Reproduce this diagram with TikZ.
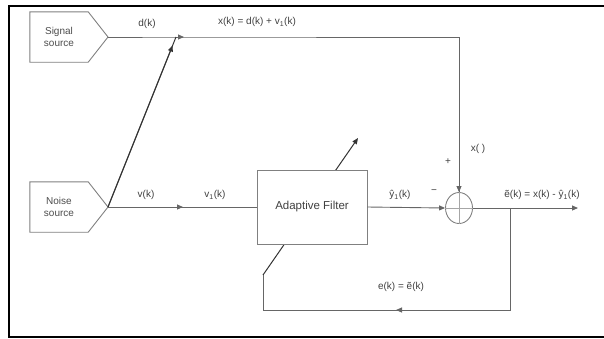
\documentclass[tikz,border=0pt]{standalone}
\usepackage{fontspec}
\setmainfont{Liberation Sans}
\usetikzlibrary{arrows.meta,calc,shapes.geometric}
\begin{document}
\begin{tikzpicture}[x=1pt,y=-1pt,
  wire/.style={draw=black!60, line width=0.9pt},
  dark/.style={draw=black!80, line width=1pt},
  tip/.style={-{Triangle[length=6pt,width=5pt]}},
  srcbody/.style={minimum width=58pt, minimum height=50pt, inner sep=0pt,
    font=\fontsize{10}{11.5}\selectfont, text=black!70, align=center},
  pent/.style={draw=black!50, line width=0.9pt},
  blk/.style={draw=black!50, line width=0.9pt, fill=white, minimum width=110pt,
    minimum height=74pt, inner sep=0pt, font=\fontsize{11.5}{13}\selectfont, text=black!75},
  sumc/.style={draw=black!50, line width=0.9pt, ellipse, minimum width=27pt,
    minimum height=31pt, inner sep=0pt},
  lbl/.style={font=\fontsize{10}{11}\selectfont, text=black!75, inner sep=1pt}]
\useasboundingbox (0,0) rectangle (604,338);
% frame
\draw[line width=2pt] (606,6) -- (8.5,6) -- (8.5,336.5) -- (606,336.5);
% source nodes
\node[srcbody] (sig) at (59,37) {Signal\\source};
\coordinate (sigtip) at (108,37);
\draw[pent] (sig.north west) -- (sig.north east) -- (sigtip) -- (sig.south east) -- (sig.south west) -- cycle;
\node[srcbody] (noise) at (59,207) {Noise\\source};
\coordinate (noisetip) at (108,207);
\draw[pent] (noise.north west) -- (noise.north east) -- (noisetip) -- (noise.south east) -- (noise.south west) -- cycle;
\coordinate (j) at (176,37);
\coordinate (tr) at (459,37);
\coordinate (br) at (510,208);
\coordinate (bb) at (510,310);
\coordinate (bl) at (263,310);
\coordinate (dl) at (263,275);
\coordinate (du) at (358,138);
\coordinate (out) at (578,208);
% adaptation diagonal (behind box)
\draw[dark, tip] (dl) -- (du);
\node[blk] (filt) at (312,207) {Adaptive Filter};
\node[sumc] (sum) at (459,208) {};
\draw[black!35, line width=0.5pt] (sum.north) -- (sum.south) (sum.west) -- (sum.east);
% signal path
\draw[wire] (sigtip) -- (j) -- (tr) -- (sum.north);
\draw[wire, tip] (j) -- (184,37);
\draw[wire, tip] (tr) -- (sum.north);
% noise diagonal
\draw[dark] (noisetip) -- (j);
\draw[dark, tip] (noisetip) -- ($(noisetip)!0.95!(j)$);
% noise to filter
\draw[wire] (noisetip) -- (filt.west);
\draw[wire, tip] (noisetip) -- (183,207);
% filter to summer
\draw[wire, tip] (filt.east) -- (sum.west);
% output
\draw[wire, tip] (sum.east) -- (out);
% feedback
\draw[wire] (br) -- (bb) -- (bl) -- (dl);
\draw[wire, tip] (bb) -- (396,310);
% labels
\node[lbl] (ld) at (147,24) {d(k)};
\node[lbl] (lx) at (257,22) {x(k) = d(k) + v\textsubscript{1}(k)};
\node[lbl] (lv) at (146,195) {v(k)};
\node[lbl] (lv1) at (215,195) {v\textsubscript{1}(k)};
\node[lbl] (ly) at (400,195) {ŷ\textsubscript{1}(k)};
\node[lbl] (lm) at (434,192) {−};
\node[lbl] (lp) at (448,162) {+};
\node[lbl] (lxx) at (478,149) {x( )};
\node[lbl] (le) at (542,195) {ẽ(k) = x(k) - ŷ\textsubscript{1}(k)};
\node[lbl] (lfb) at (401,287) {e(k) = ẽ(k)};
\end{tikzpicture}
\end{document}
